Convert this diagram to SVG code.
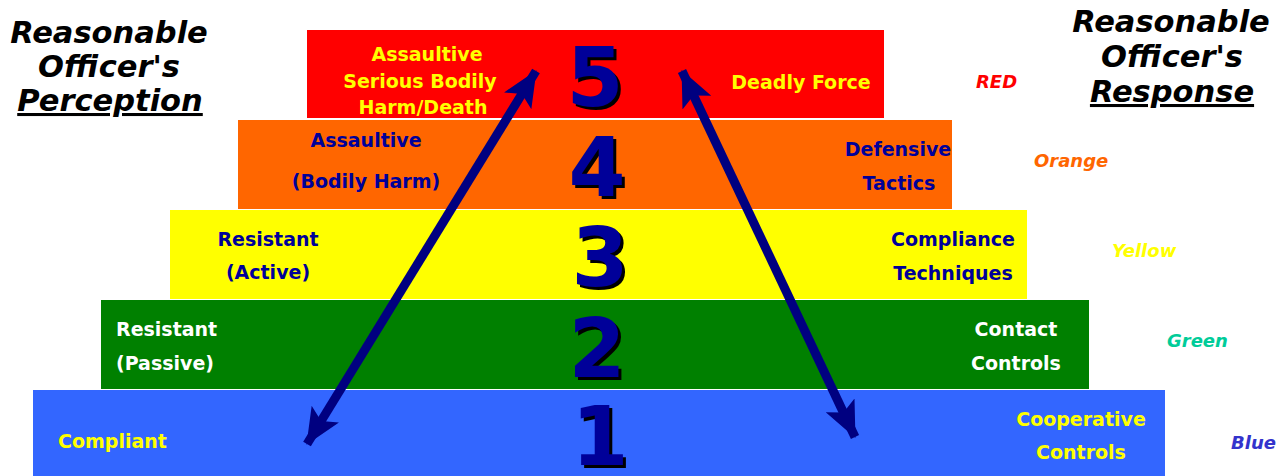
<svg xmlns="http://www.w3.org/2000/svg" width="1286" height="476" viewBox="0 0 1286 476">
<style>
text{font-family:"DejaVu Sans","Verdana",sans-serif;font-weight:bold}
.h{font-size:30.5px;font-style:italic;fill:#000;text-anchor:middle}
.u{text-decoration:underline}
.l{font-size:19px}
.c{text-anchor:middle}
.y{fill:#ffff00}
.n{fill:#000099}
.w{fill:#ffffff}
.k{font-size:18px;font-style:italic}
.d{font-size:82px;text-anchor:middle}
.sh{fill:#000}
.dg{fill:#000099}
</style>
<defs>
<marker id="ah" viewBox="0 0 36 32" markerUnits="userSpaceOnUse" markerWidth="36" markerHeight="32" refX="35" refY="16" orient="auto-start-reverse">
<path d="M0,0 L36,16 L0,32 L8,16 z" fill="#000080"/>
</marker>
</defs>
<rect width="1286" height="476" fill="#fff"/>
<g id="titles">
<text class="h" x="109" y="43">Reasonable</text>
<text class="h" x="109" y="77">Officer's</text>
<text class="h u" x="110" y="111">Perception</text>
<text class="h" x="1171" y="32">Reasonable</text>
<text class="h" x="1172" y="67">Officer's</text>
<text class="h u" x="1172" y="102">Response</text>
</g>
<g id="level5">
<rect x="307" y="30" width="577" height="88" fill="#ff0000"/>
<text class="l c y" x="427" y="61">Assaultive</text>
<text class="l c y" x="420" y="88">Serious Bodily</text>
<text class="l c y" x="423" y="114">Harm/Death</text>
<text class="l c y" x="801" y="89">Deadly Force</text>
<text class="d sh" x="598" y="109">5</text>
<text class="d dg" x="595" y="106">5</text>
<text class="k" x="976" y="88" fill="#ff0000">RED</text>
</g>
<g id="level4">
<rect x="238" y="120" width="714" height="89" fill="#ff6600"/>
<text class="l c n" x="366" y="147">Assaultive</text>
<text class="l c n" x="366" y="188">(Bodily Harm)</text>
<text class="l c n" x="898" y="156">Defensive</text>
<text class="l c n" x="899" y="190">Tactics</text>
<text class="d sh" x="600" y="199">4</text>
<text class="d dg" x="597" y="196">4</text>
<text class="k" x="1034" y="167" fill="#ff6600">Orange</text>
</g>
<g id="level3">
<rect x="170" y="210" width="857" height="89" fill="#ffff00"/>
<text class="l c n" x="268" y="246">Resistant</text>
<text class="l c n" x="268" y="279">(Active)</text>
<text class="l c n" x="953" y="246">Compliance</text>
<text class="l c n" x="953" y="280">Techniques</text>
<text class="d sh" x="603" y="289">3</text>
<text class="d dg" x="600" y="286">3</text>
<text class="k" x="1112" y="257" fill="#ffff00">Yellow</text>
</g>
<g id="level2">
<rect x="101" y="300" width="988" height="89" fill="#008000"/>
<text class="l w" x="116" y="336">Resistant</text>
<text class="l w" x="116" y="370">(Passive)</text>
<text class="l c w" x="1016" y="336">Contact</text>
<text class="l c w" x="1016" y="370">Controls</text>
<text class="d sh" x="600" y="380">2</text>
<text class="d dg" x="597" y="377">2</text>
<text class="k" x="1167" y="347" fill="#00cc99">Green</text>
</g>
<g id="level1">
<rect x="33" y="390" width="1132" height="86" fill="#3366ff"/>
<text class="l y" x="58" y="448">Compliant</text>
<text class="l c y" x="1081" y="426">Cooperative</text>
<text class="l c y" x="1081" y="459">Controls</text>
<text class="d sh" x="603" y="468">1</text>
<text class="d dg" x="600" y="465">1</text>
<text class="k" x="1231" y="449" fill="#3333cc">Blue</text>
</g>
<g id="connectors" stroke="#000080" stroke-width="9" fill="none">
<line x1="307" y1="444" x2="536" y2="71" marker-start="url(#ah)" marker-end="url(#ah)"/>
<line x1="682" y1="71" x2="855" y2="437" marker-start="url(#ah)" marker-end="url(#ah)"/>
</g>
</svg>
